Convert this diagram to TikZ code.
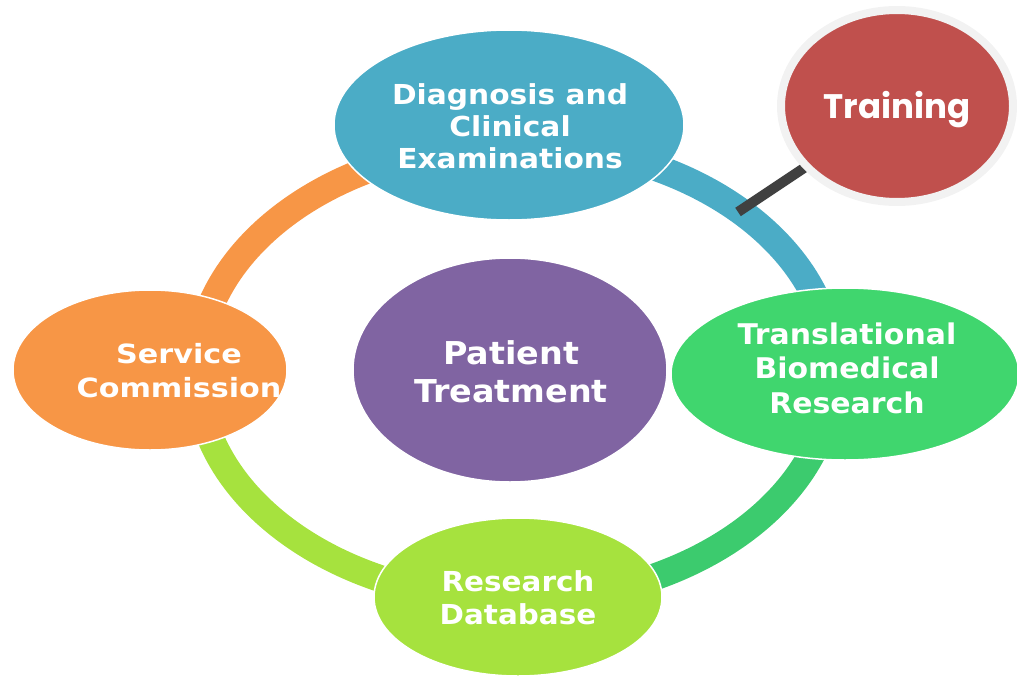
\documentclass[tikz,border=0pt]{standalone}
\usepackage{fontspec}
\newfontfamily\djfont{DejaVu Sans}
\newfontfamily\popfont{Poppins}
\usetikzlibrary{shapes.geometric,backgrounds}
\definecolor{cBlue}{HTML}{4BACC6}
\definecolor{cOrange}{HTML}{F79646}
\definecolor{cPurple}{HTML}{8064A2}
\definecolor{cGreen}{HTML}{40D66E}
\definecolor{cRingGreen}{HTML}{3CCB6E}
\definecolor{cLime}{HTML}{A6E23E}
\definecolor{cRed}{HTML}{C0504D}
\definecolor{cRim}{HTML}{F2F2F2}
\definecolor{cLink}{HTML}{404040}
\tikzset{
  blob/.style={ellipse, inner sep=0pt, draw=white, line width=1.5pt},
  blobtext/.style={text=white, align=center, font=\djfont\bfseries, inner sep=0pt},
  ringseg/.style={line width=27pt},
  link/.style={draw=cLink, line width=10pt}
}
\begin{document}
\begin{tikzpicture}[x=1pt,y=-1pt]
\useasboundingbox (0,0) rectangle (1017,677);
\coordinate (ringc) at (515,372);
% ellipses
\node[blob, fill=cBlue, minimum width=350pt, minimum height=190pt] (diag) at (509,125) {};
\node[blob, fill=cOrange, minimum width=274pt, minimum height=160pt] (svc) at (150,370) {};
\node[blob, fill=cPurple, minimum width=314pt, minimum height=224pt] (pat) at (510,370) {};
\node[blob, fill=cGreen, minimum width=348pt, minimum height=172pt] (trans) at (845,374) {};
\node[blob, fill=cLime, minimum width=288pt, minimum height=158pt] (db) at (518,597) {};
\node[ellipse, inner sep=0pt, fill=cRed, draw=cRim, line width=8pt,
      minimum width=232pt, minimum height=192pt] (train) at (897,106) {};
% texts
\node[blobtext, xscale=1.08, font=\djfont\bfseries\fontsize{27.5}{32}\selectfont] (diagt) at (510,126) {Diagnosis and\\Clinical\\Examinations};
\node[blobtext, xscale=1.14, font=\djfont\bfseries\fontsize{26.5}{34}\selectfont] (svct) at (179,371) {Service\\Commission};
\node[blobtext, xscale=1.06, font=\djfont\bfseries\fontsize{31.5}{38}\selectfont] (patt) at (511,372) {Patient\\Treatment};
\node[blobtext, xscale=1.05, font=\djfont\bfseries\fontsize{28.5}{34.5}\selectfont] (transt) at (847,368) {Translational\\Biomedical\\Research};
\node[blobtext, xscale=1.07, font=\djfont\bfseries\fontsize{27.5}{33}\selectfont] (dbt) at (518,598) {Research\\Database};
\node[text=white, inner sep=0pt, font=\popfont\bfseries\fontsize{34}{38}\selectfont] (traint) at (897,110) {Training};
\coordinate (tjoin) at (738,212);
\begin{pgfonlayer}{background}
  \draw[ringseg, cOrange] (ringc) ++(180:318 and 228) arc[start angle=180, end angle=270, x radius=318, y radius=228];
  \draw[ringseg, cBlue] (ringc) ++(270:318 and 228) arc[start angle=270, end angle=360, x radius=318, y radius=228];
  \draw[ringseg, cRingGreen] (ringc) ++(0:318 and 228) arc[start angle=0, end angle=90, x radius=318, y radius=228];
  \draw[ringseg, cLime] (ringc) ++(90:318 and 228) arc[start angle=90, end angle=180, x radius=318, y radius=228];
  \draw[link] (tjoin) -- (train.center);
\end{pgfonlayer}
\end{tikzpicture}
\end{document}
